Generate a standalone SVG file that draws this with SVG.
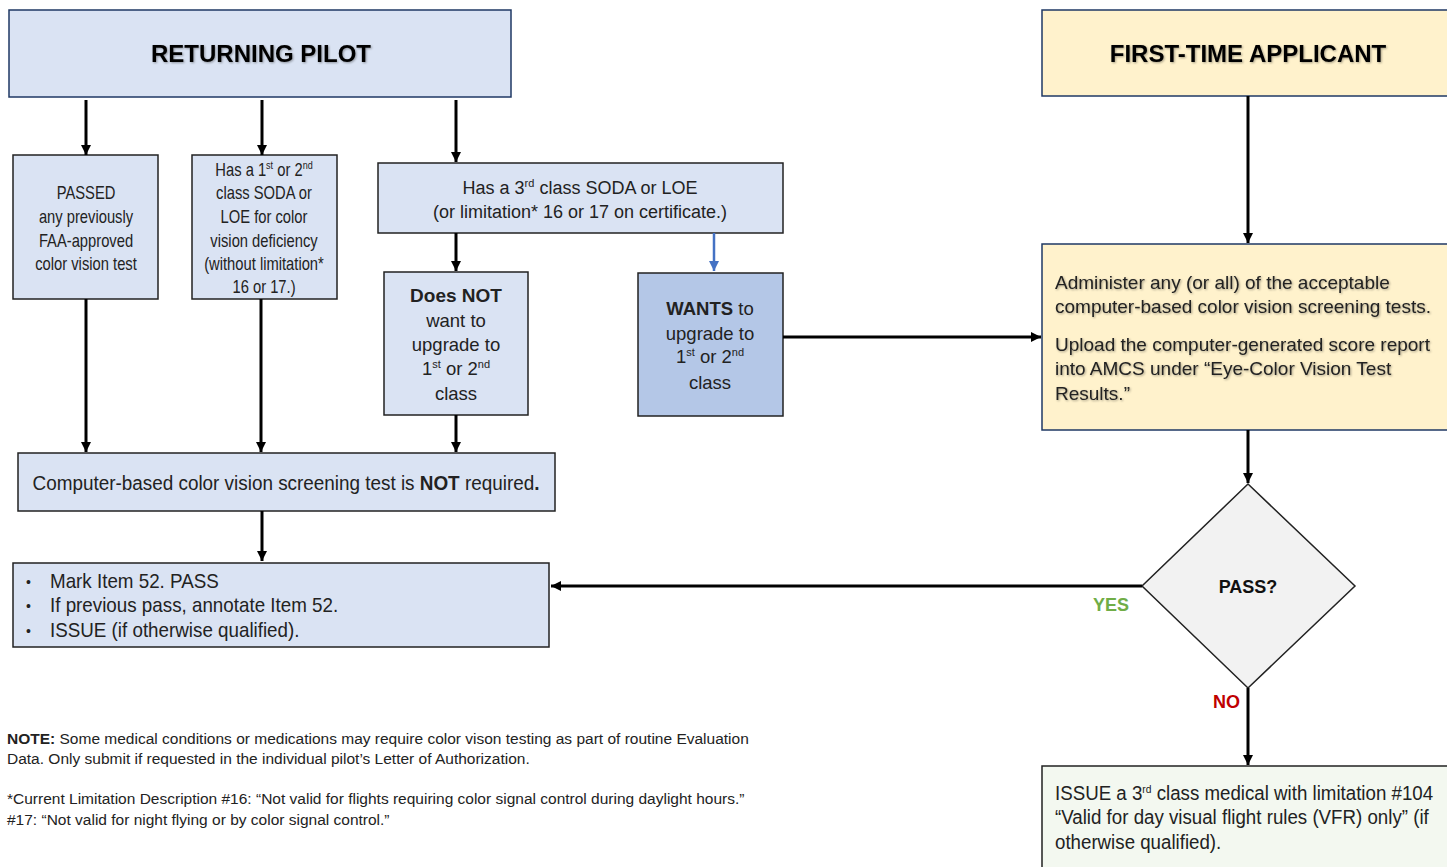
<svg xmlns="http://www.w3.org/2000/svg" width="1447" height="867" viewBox="0 0 1447 867">
<defs>
<marker id="ah" viewBox="0 0 10 10" refX="10" refY="5" markerWidth="10" markerHeight="10" markerUnits="userSpaceOnUse" orient="auto"><path d="M0,0 L10,5 L0,10 z" fill="#000"/></marker>
<marker id="ahb" viewBox="0 0 10 10" refX="10" refY="5" markerWidth="10" markerHeight="10" markerUnits="userSpaceOnUse" orient="auto"><path d="M0,0 L10,5 L0,10 z" fill="#4472c4"/></marker>
<filter id="sh" x="-5%" y="-20%" width="110%" height="140%"><feDropShadow dx="1" dy="1" stdDeviation="0.8" flood-color="#000" flood-opacity="0.35"/></filter>
</defs>
<style>
.box{fill:#dae3f3;stroke:#222;stroke-width:1.5}
.title{stroke:#1f3864;stroke-width:1.5}
.n{font-family:"Liberation Sans",Arial,sans-serif;font-size:18px;fill:#222}
.a{font-family:"Liberation Sans",Arial,sans-serif;font-size:18px;fill:#222}
.c{text-anchor:middle}
.b{font-weight:bold}
.con line{stroke:#000;stroke-width:3;marker-end:url(#ah)}
.sup{font-size:11px}
</style>
<g id="returning">
<rect class="title" x="9" y="10" width="502" height="87" fill="#dae3f3"/>
<text class="a c b" x="261" y="62" filter="url(#sh)" style="font-size:24px;fill:#000">RETURNING PILOT</text>
</g>
<g id="firsttime">
<rect class="title" x="1042" y="10" width="410" height="86" fill="#fff2cc"/>
<text class="a c b" x="1248" y="62" filter="url(#sh)" style="font-size:24px;fill:#000">FIRST-TIME APPLICANT</text>
</g>
<g id="passed">
<rect class="box" x="13" y="155" width="145" height="144"/>
<g transform="translate(86,0) scale(0.82,1)">
<text class="n c" x="0" y="199">PASSED</text>
<text class="n c" x="0" y="223">any previously</text>
<text class="n c" x="0" y="247">FAA-approved</text>
<text class="n c" x="0" y="270">color vision test</text>
</g>
</g>
<g id="soda12">
<rect class="box" x="192" y="155" width="145" height="144"/>
<g transform="translate(264,0) scale(0.82,1)">
<text class="n c" x="0" y="176">Has a 1<tspan class="sup" dy="-7">st</tspan><tspan dy="7"> or 2</tspan><tspan class="sup" dy="-7">nd</tspan></text>
<text class="n c" x="0" y="199">class SODA or</text>
<text class="n c" x="0" y="223">LOE for color</text>
<text class="n c" x="0" y="247">vision deficiency</text>
<text class="n c" x="0" y="270">(without limitation*</text>
<text class="n c" x="0" y="293">16 or 17.)</text>
</g>
</g>
<g id="soda3">
<rect class="box" x="378" y="163" width="405" height="70"/>
<text class="a c" x="580" y="194">Has a 3<tspan class="sup" dy="-7">rd</tspan><tspan dy="7"> class SODA or LOE</tspan></text>
<text class="a c" x="580" y="218">(or limitation* 16 or 17 on certificate.)</text>
</g>
<g id="notupgrade">
<rect class="box" x="384" y="272" width="144" height="143"/>
<text class="a c b" x="456" y="302" style="font-size:19px">Does NOT</text>
<text class="a c" x="456" y="327" style="font-size:18.5px">want to</text>
<text class="a c" x="456" y="351" style="font-size:18.5px">upgrade to</text>
<text class="a c" x="456" y="375" style="font-size:18.5px">1<tspan class="sup" dy="-7">st</tspan><tspan dy="7"> or 2</tspan><tspan class="sup" dy="-7">nd</tspan></text>
<text class="a c" x="456" y="400" style="font-size:18.5px">class</text>
</g>
<g id="wants">
<rect class="box" x="638" y="273" width="145" height="143" style="fill:#b4c7e7"/>
<text class="a c" x="710" y="315" style="font-size:18.5px"><tspan font-weight="bold">WANTS</tspan> to</text>
<text class="a c" x="710" y="340" style="font-size:18.5px">upgrade to</text>
<text class="a c" x="710" y="363" style="font-size:18.5px">1<tspan class="sup" dy="-7">st</tspan><tspan dy="7"> or 2</tspan><tspan class="sup" dy="-7">nd</tspan></text>
<text class="a c" x="710" y="389" style="font-size:18.5px">class</text>
</g>
<g id="administer">
<rect class="title" x="1042" y="244" width="410" height="186" fill="#fff2cc"/>
<g filter="url(#sh)">
<text class="a" x="1055" y="289" style="font-size:19px">Administer any (or all) of the acceptable</text>
<text class="a" x="1055" y="313" style="font-size:19px">computer-based color vision screening tests.</text>
<text class="a" x="1055" y="351" style="font-size:19px">Upload the computer-generated score report</text>
<text class="a" x="1055" y="375" style="font-size:19px">into AMCS under “Eye-Color Vision Test</text>
<text class="a" x="1055" y="400" style="font-size:19px">Results.”</text>
</g>
</g>
<g id="notrequired">
<rect class="box" x="18" y="453" width="537" height="58"/>
<g transform="translate(286,0) scale(0.945,1)">
<text class="n c" x="0" y="490" style="font-size:20px">Computer-based color vision screening test is <tspan font-weight="bold">NOT</tspan> required<tspan font-weight="bold">.</tspan></text>
</g>
</g>
<g id="mark">
<rect class="box" x="13" y="563" width="536" height="84"/>
<text class="a" x="26" y="587" style="font-size:14px">•</text>
<text class="a" x="26" y="611" style="font-size:14px">•</text>
<text class="a" x="26" y="636" style="font-size:14px">•</text>
<g transform="translate(50,0) scale(0.94,1)">
<text class="n" x="0" y="588" style="font-size:20px">Mark Item 52. PASS</text>
<text class="n" x="0" y="612" style="font-size:20px">If previous pass, annotate Item 52.</text>
<text class="n" x="0" y="637" style="font-size:20px">ISSUE (if otherwise qualified).</text>
</g>
</g>
<g id="pass">
<polygon points="1248,484 1355,586 1248,688 1142,586" fill="#f2f2f2" stroke="#222" stroke-width="1.5"/>
<text class="a c b" x="1248" y="593" style="font-size:18px;fill:#111">PASS?</text>
</g>
<g id="issue3">
<rect x="1042" y="766" width="410" height="110" fill="#f3f8f0" stroke="#222" stroke-width="1.5"/>
<g transform="translate(1055,0) scale(0.935,1)">
<text class="n" x="0" y="800" style="font-size:20px">ISSUE a 3<tspan class="sup" dy="-7">rd</tspan><tspan dy="7"> class medical with limitation #104</tspan></text>
<text class="n" x="0" y="824" style="font-size:20px">“Valid for day visual flight rules (VFR) only” (if</text>
<text class="n" x="0" y="849" style="font-size:20px">otherwise qualified).</text>
</g>
</g>
<g id="notes">
<text class="n" x="7" y="744" style="font-size:15.5px"><tspan font-weight="bold">NOTE:</tspan> Some medical conditions or medications may require color vison testing as part of routine Evaluation</text>
<text class="n" x="7" y="764" style="font-size:15.5px">Data.  Only submit if requested in the individual pilot’s Letter of Authorization.</text>
<text class="n" x="7" y="804" style="font-size:15.5px">*Current Limitation Description #16: “Not valid for flights requiring color signal control during daylight hours.”</text>
<text class="n" x="7" y="825" style="font-size:15.5px">#17: “Not valid for night flying or by color signal control.”</text>
</g>
<g class="con" id="connectors">
<line x1="86" y1="100" x2="86" y2="155"/>
<line x1="262" y1="100" x2="262" y2="155"/>
<line x1="456" y1="100" x2="456" y2="162"/>
<line x1="456" y1="233" x2="456" y2="271"/>
<line x1="714" y1="233" x2="714" y2="271" style="stroke:#4472c4;stroke-width:2.5;marker-end:url(#ahb)"/>
<line x1="86" y1="299" x2="86" y2="452"/>
<line x1="261" y1="299" x2="261" y2="452"/>
<line x1="456" y1="415" x2="456" y2="452"/>
<line x1="262" y1="511" x2="262" y2="561"/>
<line x1="783" y1="337" x2="1041" y2="337"/>
<line x1="1248" y1="96" x2="1248" y2="243"/>
<line x1="1248" y1="430" x2="1248" y2="483"/>
<line x1="1142" y1="586" x2="551" y2="586"/>
<line x1="1248" y1="688" x2="1248" y2="765"/>
<text class="a b" x="1093" y="611" style="font-size:18px;fill:#70ad47">YES</text>
<text class="a b" x="1213" y="708" style="font-size:18px;fill:#c00000">NO</text>
</g>
</svg>
